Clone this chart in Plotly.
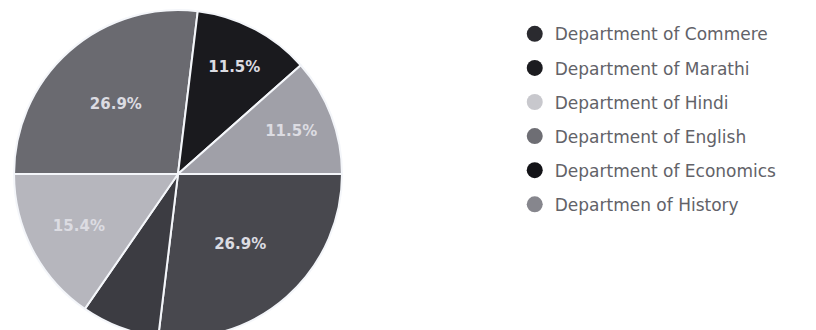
import plotly.graph_objects as go

# departments and counts (out of 26)
departments = ["Department of Commere", "Department of Marathi", "Department of Hindi",
               "Department of English", "Department of Economics", "Departmen of History"]
legend_names = ["Department of Commere", "Department of Marathi", "Department of Hindi",
                "Department of English", "Department of Economics", "Departmen of History"]
counts = [7, 2, 4, 7, 3, 3]
slice_colors = ["#48484e", "#3c3c42", "#b6b6bd", "#6a6a70", "#1a1a1e", "#a0a0a8"]
legend_colors = ["#2a2a2f", "#1c1c20", "#c8c8cd", "#6e6e74", "#131317", "#86868d"]
text_tpl = ["%{percent}", "", "%{percent}", "%{percent}", "%{percent}", "%{percent}"]

fig = go.Figure()
fig.add_trace(go.Pie(
    labels=departments, values=counts, sort=False, direction="clockwise", rotation=90,
    marker=dict(colors=slice_colors, line=dict(color="#f4f6fa", width=2)),
    texttemplate=text_tpl, textposition="inside", insidetextorientation="horizontal",
    textfont=dict(color="#dcdce2", size=15, family="DejaVu Sans", weight="bold"),
    showlegend=False, hoverinfo="label+percent",
    domain=dict(x=[0.0074, 0.4093], y=[0, 0.994]),
))

# legend entries with round markers
for i, (name, col) in enumerate(zip(legend_names, legend_colors)):
    fig.add_trace(go.Scatter(x=[None], y=[None], mode="markers", name=name,
                             legendgroup="g%d" % i,
                             marker=dict(symbol="circle", size=16, color=col)))

fig.update_layout(
    width=816, height=330,
    margin=dict(l=0, r=0, t=0, b=0),
    paper_bgcolor="white", plot_bgcolor="white",
    xaxis=dict(visible=False), yaxis=dict(visible=False),
    legend=dict(x=0.621, y=0.975, xanchor="left", yanchor="top",
                font=dict(size=17, color="#626268", family="DejaVu Sans"),
                itemsizing="trace", tracegroupgap=9, traceorder="grouped"),
)
fig.write_html("out.html")
